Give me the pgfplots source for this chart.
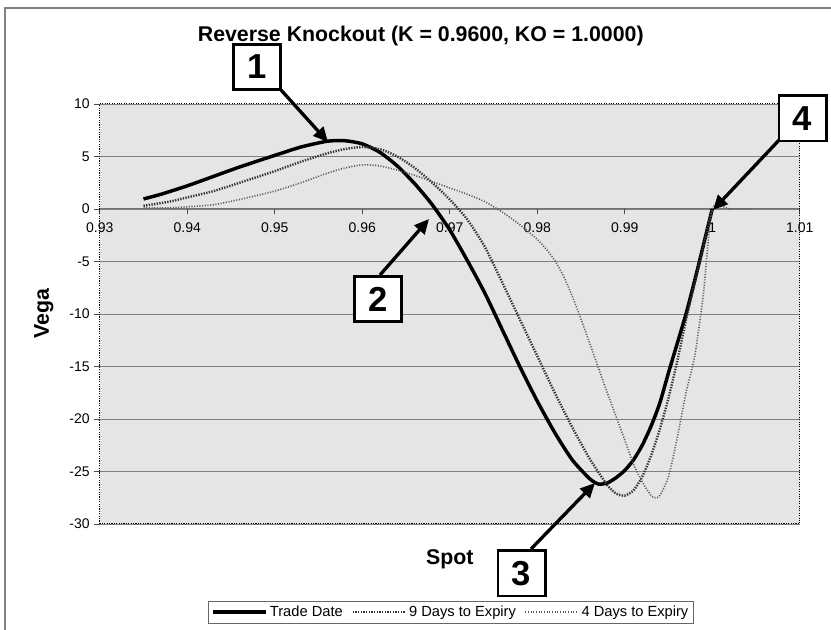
\documentclass[border=0pt]{standalone}
\usepackage{fontspec}
\setmainfont{Liberation Sans}
\usepackage{pgfplots}
\pgfplotsset{compat=1.18}
\usetikzlibrary{arrows.meta}

\tikzset{
  numbox/.style={draw=black, fill=white, line width=2pt, minimum width=35.5pt,
    minimum height=34pt, inner sep=0pt, font=\bfseries\fontsize{26}{28}\selectfont},
  callout/.style={line width=2.5pt, -{Triangle[length=11pt,width=10pt]}},
}

\begin{document}
\begin{tikzpicture}[x=0.75pt,y=0.75pt]
\useasboundingbox (0,0) rectangle (831,630);
\draw[black!50, line width=0.9pt] (5,0) -- (5,622) -- (831,622);

\begin{axis}[
  at={(114,101)}, anchor=south west,
  scale only axis, width=525pt, height=315pt,
  xmin=0.93, xmax=1.01, ymin=-30, ymax=10,
  clip=false,
  axis x line=middle, axis y line=left,
  hide obscured x ticks=false, hide obscured y ticks=false,
  axis line style={-},
  x axis line style={black!55, line width=0.7pt},
  y axis line style={black, densely dotted, line width=0.8pt},
  axis background/.style={fill=black!10},
  ymajorgrids, grid style={black!50, line width=0.6pt},
  xtick={0.93,0.94,0.95,0.96,0.97,0.98,0.99,1,1.01},
  xticklabels={0.93,0.94,0.95,0.96,0.97,0.98,0.99,1,1.01},
  ytick={-30,-25,-20,-15,-10,-5,0,5,10},
  yticklabels={-30,-25,-20,-15,-10,-5,0,5,10},
  tick align=outside, major tick length=4pt,
  tick style={black!70, line width=0.6pt},
  ticklabel style={font=\fontsize{10.5}{12}\selectfont},
  xticklabel style={yshift=-3pt},
  /pgf/number format/assume math mode=true,
  title={Reverse Knockout (K = 0.9600, KO = 1.0000)},
  title style={at={(axis description cs:0.4586,1.142)}, anchor=center,
    font=\bfseries\fontsize{16}{19}\selectfont},
  xlabel={Spot},
  xlabel style={at={(axis description cs:0.5,-0.083)}, anchor=center,
    font=\bfseries\fontsize{16}{19}\selectfont},
  ylabel={Vega},
  ylabel style={at={(axis description cs:-0.08,0.5)}, anchor=center,
    font=\bfseries\fontsize{16}{19}\selectfont},
  legend style={at={(axis description cs:0.5014,-0.2095)}, anchor=center,
    draw=black!60, line width=0.6pt, legend columns=3,
    font=\fontsize{11}{13}\selectfont, inner sep=2pt,
    nodes={inner sep=1.5pt},
    /tikz/every even column/.append style={column sep=5pt}},
  legend image code/.code={\draw[#1] (0pt,0pt) -- (40pt,0pt);},
]

% Trade Date
\addplot[black, line width=2.6pt, smooth, tension=0.4] coordinates {
  (0.935,0.95) (0.937,1.4) (0.940,2.2) (0.943,3.1) (0.946,4.0) (0.950,5.1)
  (0.953,5.9) (0.956,6.45) (0.958,6.5) (0.960,6.2) (0.962,5.4) (0.964,4.1)
  (0.966,2.4) (0.968,0.4) (0.970,-2.0) (0.972,-4.9) (0.974,-8.0) (0.976,-11.5)
  (0.978,-15.0) (0.980,-18.3) (0.982,-21.3) (0.984,-23.9) (0.986,-25.7)
  (0.987,-26.2) (0.988,-26.1) (0.989,-25.6) (0.990,-24.9) (0.991,-23.9)
  (0.992,-22.5) (0.993,-20.7) (0.994,-18.5) (0.995,-15.6) (0.996,-12.8)
  (0.997,-10.0) (0.998,-6.8) (0.999,-3.4) (1.000,0)
};
\addlegendentry{Trade Date}

% 9 days to expiry
\addplot[black!80, line width=1.8pt, dash pattern=on 1pt off 1pt, smooth, tension=0.4] coordinates {
  (0.935,0.3) (0.938,0.7) (0.940,1.1) (0.943,1.7) (0.946,2.5) (0.950,3.6)
  (0.953,4.5) (0.956,5.3) (0.958,5.7) (0.960,5.9) (0.962,5.7) (0.964,5.0)
  (0.966,3.9) (0.968,2.5) (0.970,0.9) (0.972,-1.0) (0.974,-3.6) (0.976,-7.0)
  (0.978,-10.5) (0.980,-14.0) (0.982,-17.5) (0.984,-20.8) (0.986,-23.8)
  (0.988,-26.3) (0.989,-27.1) (0.990,-27.3) (0.991,-26.8) (0.992,-25.5)
  (0.993,-23.5) (0.994,-21.0) (0.995,-18.0) (0.996,-14.5) (0.997,-10.6)
  (0.998,-7.0) (0.999,-3.5) (1.000,0)
};
\addlegendentry{9 Days to Expiry}

% 4 days to expiry
\addplot[black!65, line width=1.2pt, dash pattern=on 0.8pt off 1.2pt, smooth, tension=0.4] coordinates {
  (0.935,0.1) (0.938,0.1) (0.940,0.2) (0.943,0.4) (0.946,0.9) (0.950,1.7)
  (0.953,2.5) (0.956,3.4) (0.958,3.9) (0.960,4.2) (0.962,4.1) (0.964,3.7)
  (0.966,3.2) (0.968,2.6) (0.970,2.0) (0.972,1.4) (0.974,0.7) (0.976,-0.3)
  (0.978,-1.5) (0.980,-2.9) (0.981,-3.8) (0.982,-4.9) (0.983,-6.4)
  (0.984,-8.3) (0.985,-10.5) (0.986,-12.8) (0.988,-17.5) (0.990,-22.0)
  (0.991,-24.3) (0.992,-26.0) (0.993,-27.3) (0.9935,-27.5) (0.994,-27.3)
  (0.995,-25.5) (0.996,-21.8) (0.997,-17.5) (0.998,-14.0) (0.999,-8.0)
  (1.000,0) (1.002,0) (1.0045,0)
};
\addlegendentry{4 Days to Expiry}

\draw[black, densely dotted, line width=0.8pt] (rel axis cs:0,0) rectangle (rel axis cs:1,1);
\end{axis}

% numbered callouts
\draw[callout] (281,540) -- (328,488);
\draw[callout] (380,355) -- (429,411);
\draw[callout] (531,81) -- (595,147);
\draw[callout] (782,493) -- (713,420);
\node[numbox] at (257,563) {1};
\node[numbox] at (378,331) {2};
\node[numbox] at (521.5,56.5) {3};
\node[numbox] at (802.5,511.5) {4};
\end{tikzpicture}
\end{document}
